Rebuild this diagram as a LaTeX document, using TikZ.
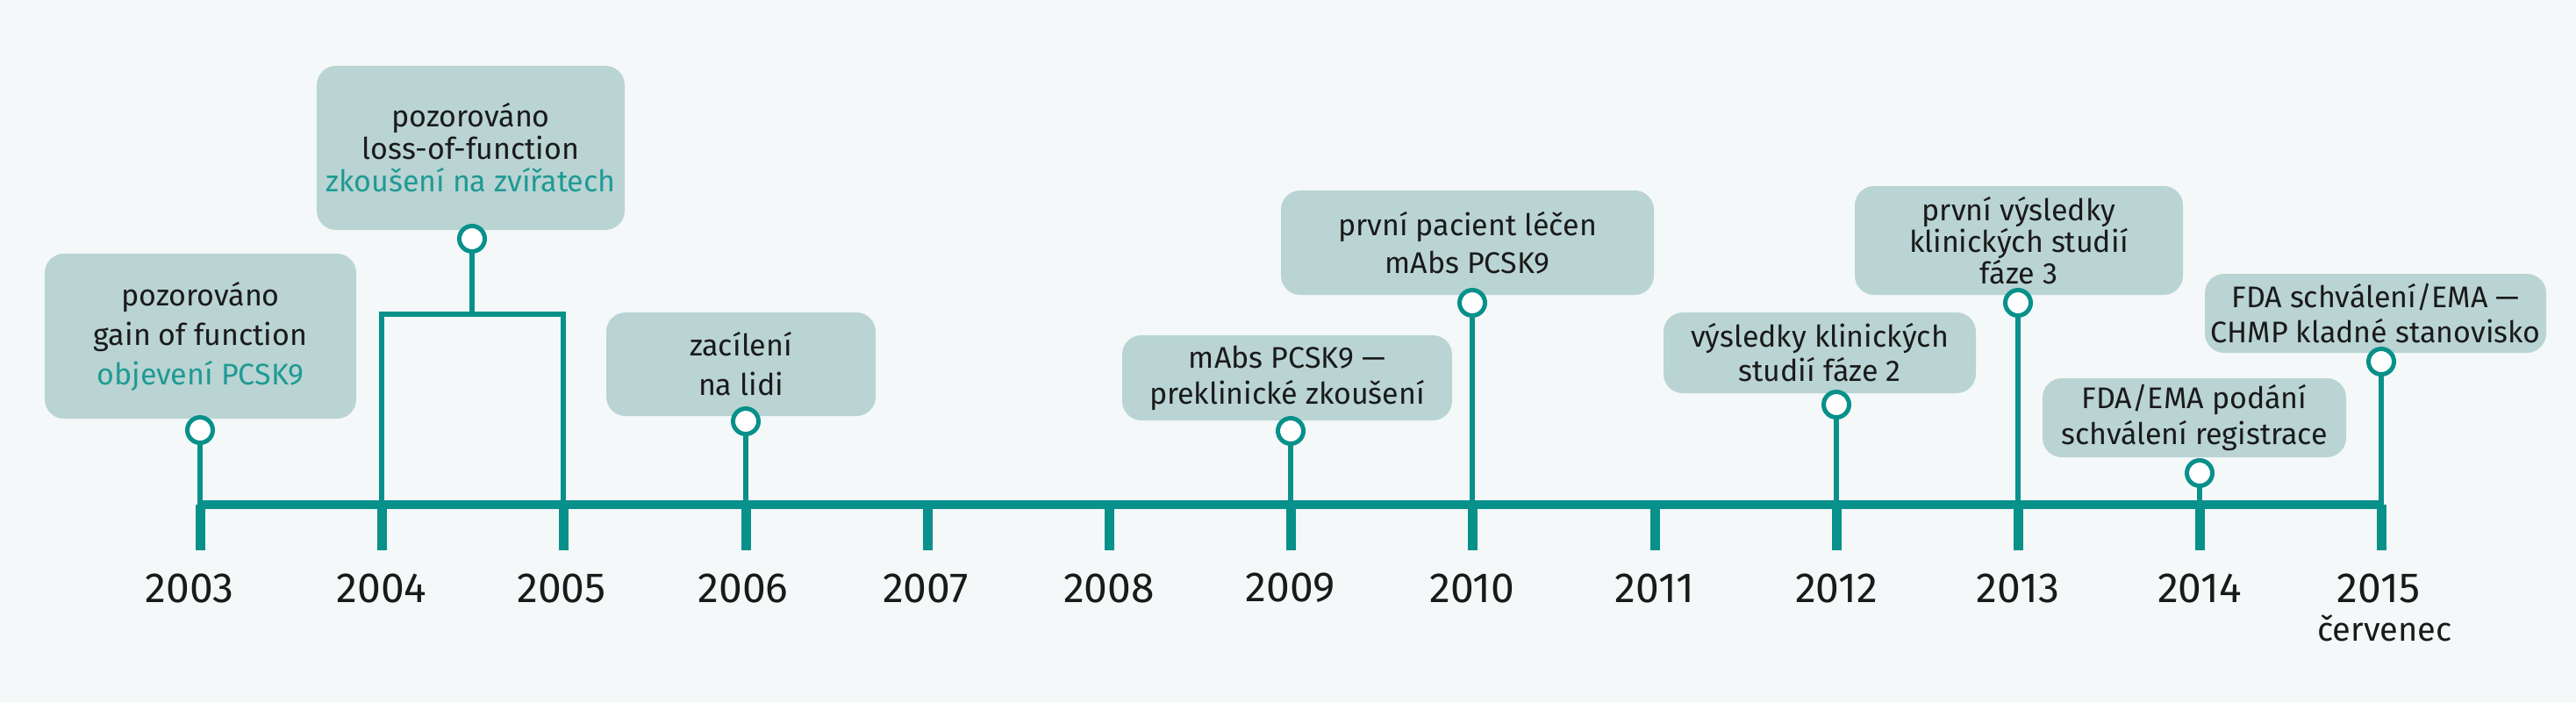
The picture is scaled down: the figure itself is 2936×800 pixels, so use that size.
\documentclass[tikz,border=0pt]{standalone}
\usepackage{fontspec}
\setmainfont{Fira Sans}
\definecolor{bgc}{HTML}{F4F8F8}
\definecolor{boxc}{HTML}{B9D4D3}
\definecolor{tealc}{HTML}{08908A}
\definecolor{tealt}{HTML}{1F9A94}
\definecolor{txt}{HTML}{1A1A1A}
\tikzset{
  box/.style={fill=boxc, rounded corners=11pt, align=center, inner sep=0pt, text=txt},
  bf/.style={font=\fontsize{17}{#1}\selectfont},
  dot/.style={circle, draw=tealc, fill=white, line width=2.5pt, minimum size=14.5pt, inner sep=0pt},
  stem/.style={draw=tealc, line width=3pt},
  tickline/.style={draw=tealc, line width=5.5pt},
  mainline/.style={draw=tealc, line width=5pt},
  yr/.style={text=txt, font=\fontsize{24}{28}\selectfont}
}
\begin{document}
\begin{tikzpicture}[x=0.5pt,y=-0.5pt]
\useasboundingbox[fill=bgc] (0,0) rectangle (2936,800);
% year coordinates on main line
\foreach \n/\x in {03/228,04/435,05/642,06/850,07/1057,08/1264,09/1471,10/1678,11/1886,12/2093,13/2300,14/2507,15/2714}{
  \coordinate (m\n) at (\x,575);
  \coordinate (k\n) at (\x,627);
}
\draw[mainline] ([xshift=-1.5pt]m03) -- ([xshift=1.5pt]m15);
\foreach \n in {03,04,05,06,07,08,09,10,11,12,13,14,15}{
  \draw[tickline] (m\n) -- (k\n);
}
\foreach \n/\x in {03/216,04/435,05/640,06/847,07/1055,08/1264,09/1471,10/1678,11/1886,12/2093,13/2300,14/2507}{
  \node[yr] (l\n) at (\x,670) {20\n};
}
\node[yr] (l15) at (2711,670) {2015};
\node[text=txt, font=\fontsize{19}{22}\selectfont] (cerv) at (2718,716) {červenec};

% boxes
\node[box, bf=22.5, minimum width=177.5pt, minimum height=94pt] (b1) at (228.5,383)
  {pozorováno\\gain of function\\{\color{tealt}objevení PCSK9}};
\node[box, bf=18.5, minimum width=175.5pt, minimum height=93.5pt] (b2) at (536.5,168.5)
  {pozorováno\\loss-of-function\\{\color{tealt}zkoušení na zvířatech}};
\node[box, bf=22.5, minimum width=153.5pt, minimum height=59pt] (b3) at (844.5,415)
  {zacílení\\na lidi};
\node[box, bf=20.5, minimum width=188pt, minimum height=48.5pt] (b4) at (1467,430.5)
  {mAbs PCSK9 —\\preklinické zkoušení};
\node[box, bf=21.5, minimum width=212.5pt, minimum height=59.5pt] (b5) at (1672.5,276.5)
  {první pacient léčen\\mAbs PCSK9};
\node[box, bf=19.5, minimum width=178pt, minimum height=46pt] (b6) at (2074,402)
  {výsledky klinických\\studií fáze 2};
\node[box, bf=18, minimum width=187pt, minimum height=62pt] (b7) at (2301,274)
  {první výsledky\\klinických studií\\fáze 3};
\node[box, bf=20.5, minimum width=173pt, minimum height=45pt] (b8) at (2501,476)
  {FDA/EMA podání\\schválení registrace};
\node[box, bf=20, minimum width=194.5pt, minimum height=45pt] (b9) at (2707.5,357)
  {FDA schválení/EMA —\\CHMP kladné stanovisko};

% dots
\node[dot] (d1) at (228,490) {};
\node[dot] (d2) at (538,272) {};
\node[dot] (d3) at (850,480) {};
\node[dot] (d4) at (1471,491) {};
\node[dot] (d5) at (1678,345) {};
\node[dot] (d6) at (2093,461) {};
\node[dot] (d7) at (2300,345) {};
\node[dot] (d8) at (2507,539) {};
\node[dot] (d9) at (2714,412) {};

% bracket for 2004-2005
\coordinate (br) at (538,358);
\coordinate (brl) at (435,358);
\coordinate (brr) at (642,358);
\draw[stem] (d2) -- (br);
\draw[stem, line cap=rect] (m04) -- (brl) -- (brr) -- (m05);

% stems
\draw[stem] (d1) -- (m03);
\draw[stem] (d3) -- (m06);
\draw[stem] (d4) -- (m09);
\draw[stem] (d5) -- (m10);
\draw[stem] (d6) -- (m12);
\draw[stem] (d7) -- (m13);
\draw[stem] (d8) -- (m14);
\draw[stem] (d9) -- (m15);
\end{tikzpicture}
\end{document}
